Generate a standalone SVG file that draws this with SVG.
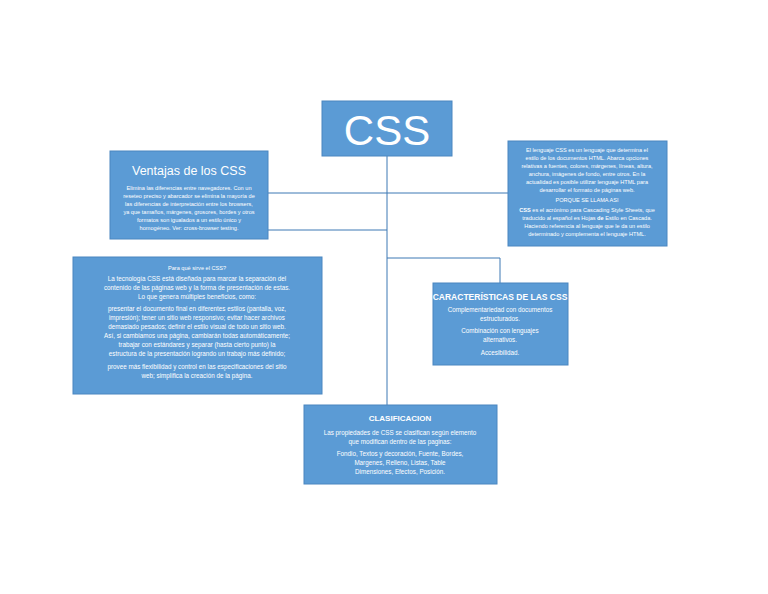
<svg xmlns="http://www.w3.org/2000/svg" width="768" height="594" viewBox="0 0 768 594">
<style>
.b{fill:#5b9bd5;stroke:#4a86c0;stroke-width:1}
.c{stroke:#3c78b4;stroke-width:1;fill:none}
text{font-family:"Liberation Sans",Arial,sans-serif;fill:#fff;text-anchor:middle}
.s{font-size:5.6px}
.t{font-size:6.3px}
</style>
<rect width="768" height="594" fill="#fff"/>
<g id="connectors">
<path class="c" d="M387 156V405M268 193H508M268 230H387M387 258H500V283"/>
</g>
<g id="css"><rect class="b" x="322" y="101" width="130" height="55"/>
<text x="387" y="145" style="font-size:42px">CSS</text></g>
<g id="ventajas"><rect class="b" x="110" y="151" width="158" height="88"/>
<text x="189" y="175" style="font-size:12.5px">Ventajas de los CSS</text>
<text class="s" x="189" y="190">Elimina las diferencias entre navegadores. Con un</text>
<text class="s" x="189" y="198">reseteo preciso y abarcador se elimina la mayoría de</text>
<text class="s" x="189" y="206">las diferencias de interpretación entre los browsers,</text>
<text class="s" x="189" y="214">ya que tamaños, márgenes, grosores, bordes y otros</text>
<text class="s" x="189" y="222">formatos son igualados a un estilo único y</text>
<text class="s" x="189" y="230">homogéneo. Ver: cross-browser testing.</text></g>
<g id="lenguaje"><rect class="b" x="508" y="141" width="159" height="105"/>
<text class="s" x="587" y="152">El lenguaje CSS es un lenguaje que determina el</text>
<text class="s" x="587" y="160">estilo de los documentos HTML. Abarca opciones</text>
<text class="s" x="587" y="168">relativas a fuentes, colores, márgenes, líneas, altura,</text>
<text class="s" x="587" y="176">anchura, imágenes de fondo, entre otros. En la</text>
<text class="s" x="587" y="184">actualidad es posible utilizar lenguaje HTML para</text>
<text class="s" x="587" y="192">desarrollar el formato de páginas web.</text>
<text class="s" x="587" y="202">PORQUE SE LLAMA ASI</text>
<text class="s" x="587" y="212"><tspan font-weight="bold">CSS</tspan> es el acrónimo para Cascading Style Sheets, que</text>
<text class="s" x="587" y="220">traducido al español es Hojas <tspan font-weight="bold">de</tspan> Estilo en Cascada.</text>
<text class="s" x="587" y="228">Haciendo referencia al lenguaje que le da un estilo</text>
<text class="s" x="587" y="236">determinado y complementa el lenguaje HTML.</text></g>
<g id="paraque"><rect class="b" x="73" y="257" width="249" height="137"/>
<text class="s" x="197" y="270">Para qué sirve el CSS?</text>
<text class="t" x="197" y="281">La tecnología CSS está diseñada para marcar la separación del</text>
<text class="t" x="197" y="290">contenido de las páginas web y la forma de presentación de estas.</text>
<text class="t" x="197" y="299">Lo que genera múltiples beneficios, como:</text>
<text class="t" x="197" y="311">presentar el documento final en diferentes estilos (pantalla, voz,</text>
<text class="t" x="197" y="320">impresión); tener un sitio web responsivo; evitar hacer archivos</text>
<text class="t" x="197" y="329">demasiado pesados; definir el estilo visual de todo un sitio web.</text>
<text class="t" x="197" y="338">Así, si cambiamos una página, cambiarán todas automáticamente;</text>
<text class="t" x="197" y="347">trabajar con estándares y separar (hasta cierto punto) la</text>
<text class="t" x="197" y="356">estructura de la presentación logrando un trabajo más definido;</text>
<text class="t" x="197" y="369">provee más flexibilidad y control en las especificaciones del sitio</text>
<text class="t" x="197" y="378">web; simplifica la creación de la página.</text></g>
<g id="caracteristicas"><rect class="b" x="433" y="283" width="135" height="82"/>
<text x="500" y="300" style="font-size:8.5px;font-weight:bold">CARACTERÍSTICAS DE LAS CSS</text>
<text class="t" x="500" y="312">Complementariedad con documentos</text>
<text class="t" x="500" y="321">estructurados.</text>
<text class="t" x="500" y="333">Combinación con lenguajes</text>
<text class="t" x="500" y="342">alternativos.</text>
<text class="t" x="500" y="355">Accesibilidad.</text></g>
<g id="clasificacion"><rect class="b" x="304" y="405" width="193" height="79"/>
<text x="400" y="421" style="font-size:8px;font-weight:bold">CLASIFICACION</text>
<text class="t" x="400" y="435">Las propiedades de CSS se clasifican según elemento</text>
<text class="t" x="400" y="444">que modifican dentro de las paginas:</text>
<text class="t" x="400" y="456">Fondio,   Textos y decoración,     Fuente,     Bordes,</text>
<text class="t" x="400" y="465">Margenes,     Relleno,     Listas,     Table</text>
<text class="t" x="400" y="474">Dimensiones,     Efectos,     Posición.</text></g>
</svg>
